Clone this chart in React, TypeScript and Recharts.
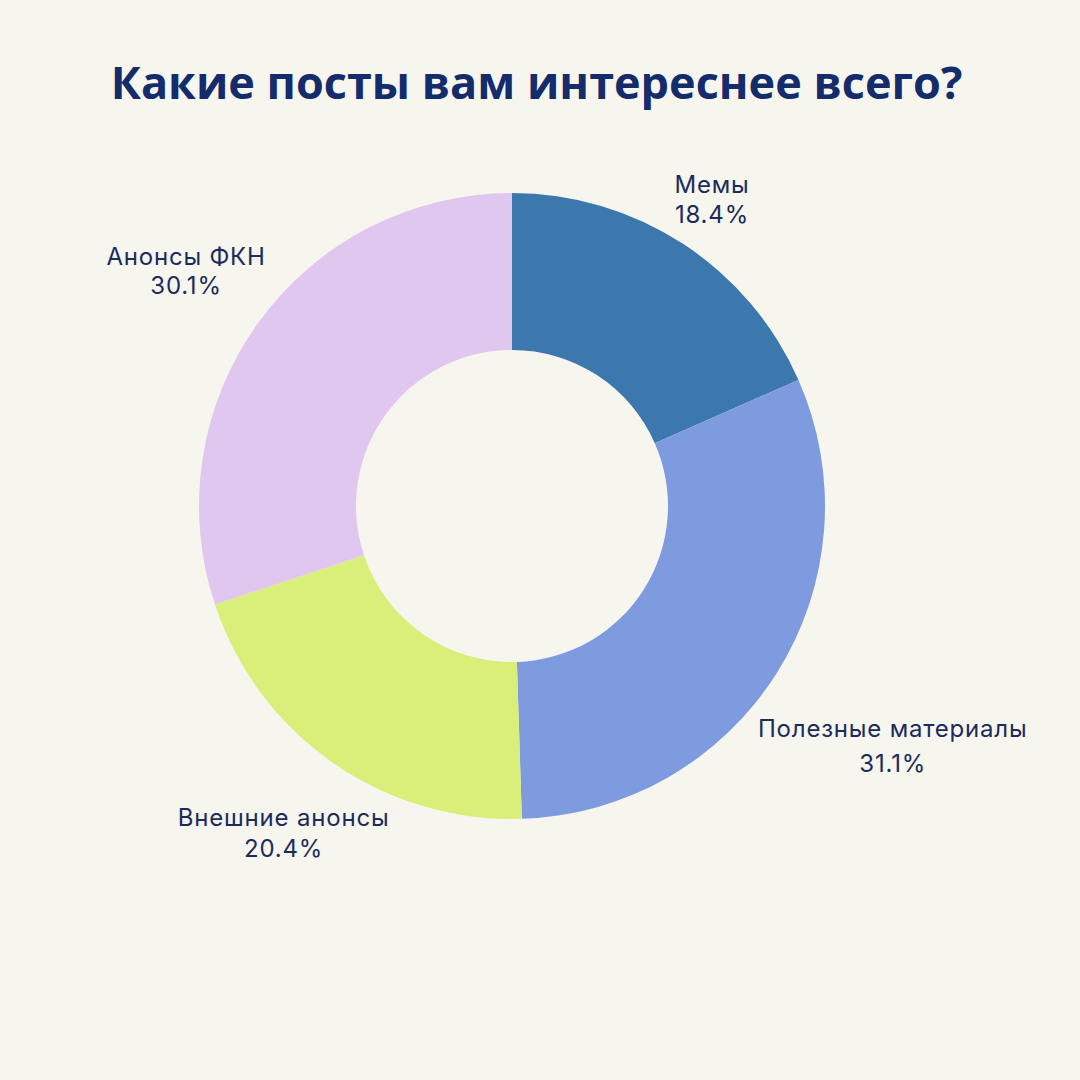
import React from 'react';
import { PieChart, Pie, Cell } from 'recharts';

const categories = ['Мемы', 'Полезные материалы', 'Внешние анонсы', 'Анонсы ФКН'];
const shares = [18.4, 31.1, 20.4, 30.1];
const sliceColors = ['#3c78ae', '#7e9be0', '#d9ef7a', '#e0c7f0'];

// label block distance from the centre and line gap, per slice
const labelRadius = [366, 450, 399, 402];
const lineGap = [30, 35, 31, 29];

const RAD = Math.PI / 180;

const data = categories.map((name, i) => ({ name, value: shares[i] }));

const renderLabel = (props: any) => {
  const { cx, cy, midAngle, index } = props;
  const r = labelRadius[index];
  const x = cx + r * Math.cos(-midAngle * RAD);
  const y = cy + r * Math.sin(-midAngle * RAD);
  const gap = lineGap[index];
  const textStyle = { fontFamily: 'Inter, sans-serif', fontSize: 24, letterSpacing: 0.8 };
  return (
    <g key={`lbl-${index}`}>
      <text x={x} y={y - gap / 2 + 8.5} textAnchor="middle" fill="#1b2b5c" style={textStyle}>
        {categories[index]}
      </text>
      <text x={x} y={y + gap / 2 + 8.5} textAnchor="middle" fill="#1b2b5c" style={textStyle}>
        {`${shares[index].toFixed(1)}%`}
      </text>
    </g>
  );
};

export default function App() {
  return (
    <div style={{ position: 'relative', width: 1080, height: 1080, background: '#f6f5ee' }}>
      <style>{`body{margin:0}`}</style>
      <div
        style={{
          position: 'absolute',
          top: 52,
          left: 0,
          width: 1073,
          textAlign: 'center',
          fontFamily: '"Open Sans", sans-serif',
          fontWeight: 700,
          fontSize: 45,
          color: '#142c6b',
          lineHeight: '60px',
        }}
      >
        Какие посты вам интереснее всего?
      </div>
      <div style={{ position: 'absolute', top: 0, left: 0 }}>
        <PieChart width={1080} height={1080} margin={{ top: 0, right: 0, bottom: 0, left: 0 }}>
          <Pie
            data={data}
            dataKey="value"
            nameKey="name"
            cx={512}
            cy={506}
            innerRadius={156}
            outerRadius={313}
            startAngle={90}
            endAngle={-270}
            stroke="none"
            label={renderLabel}
            labelLine={false}
            isAnimationActive={false}
          >
            {data.map((d, i) => (
              <Cell key={d.name} fill={sliceColors[i]} />
            ))}
          </Pie>
        </PieChart>
      </div>
    </div>
  );
}
